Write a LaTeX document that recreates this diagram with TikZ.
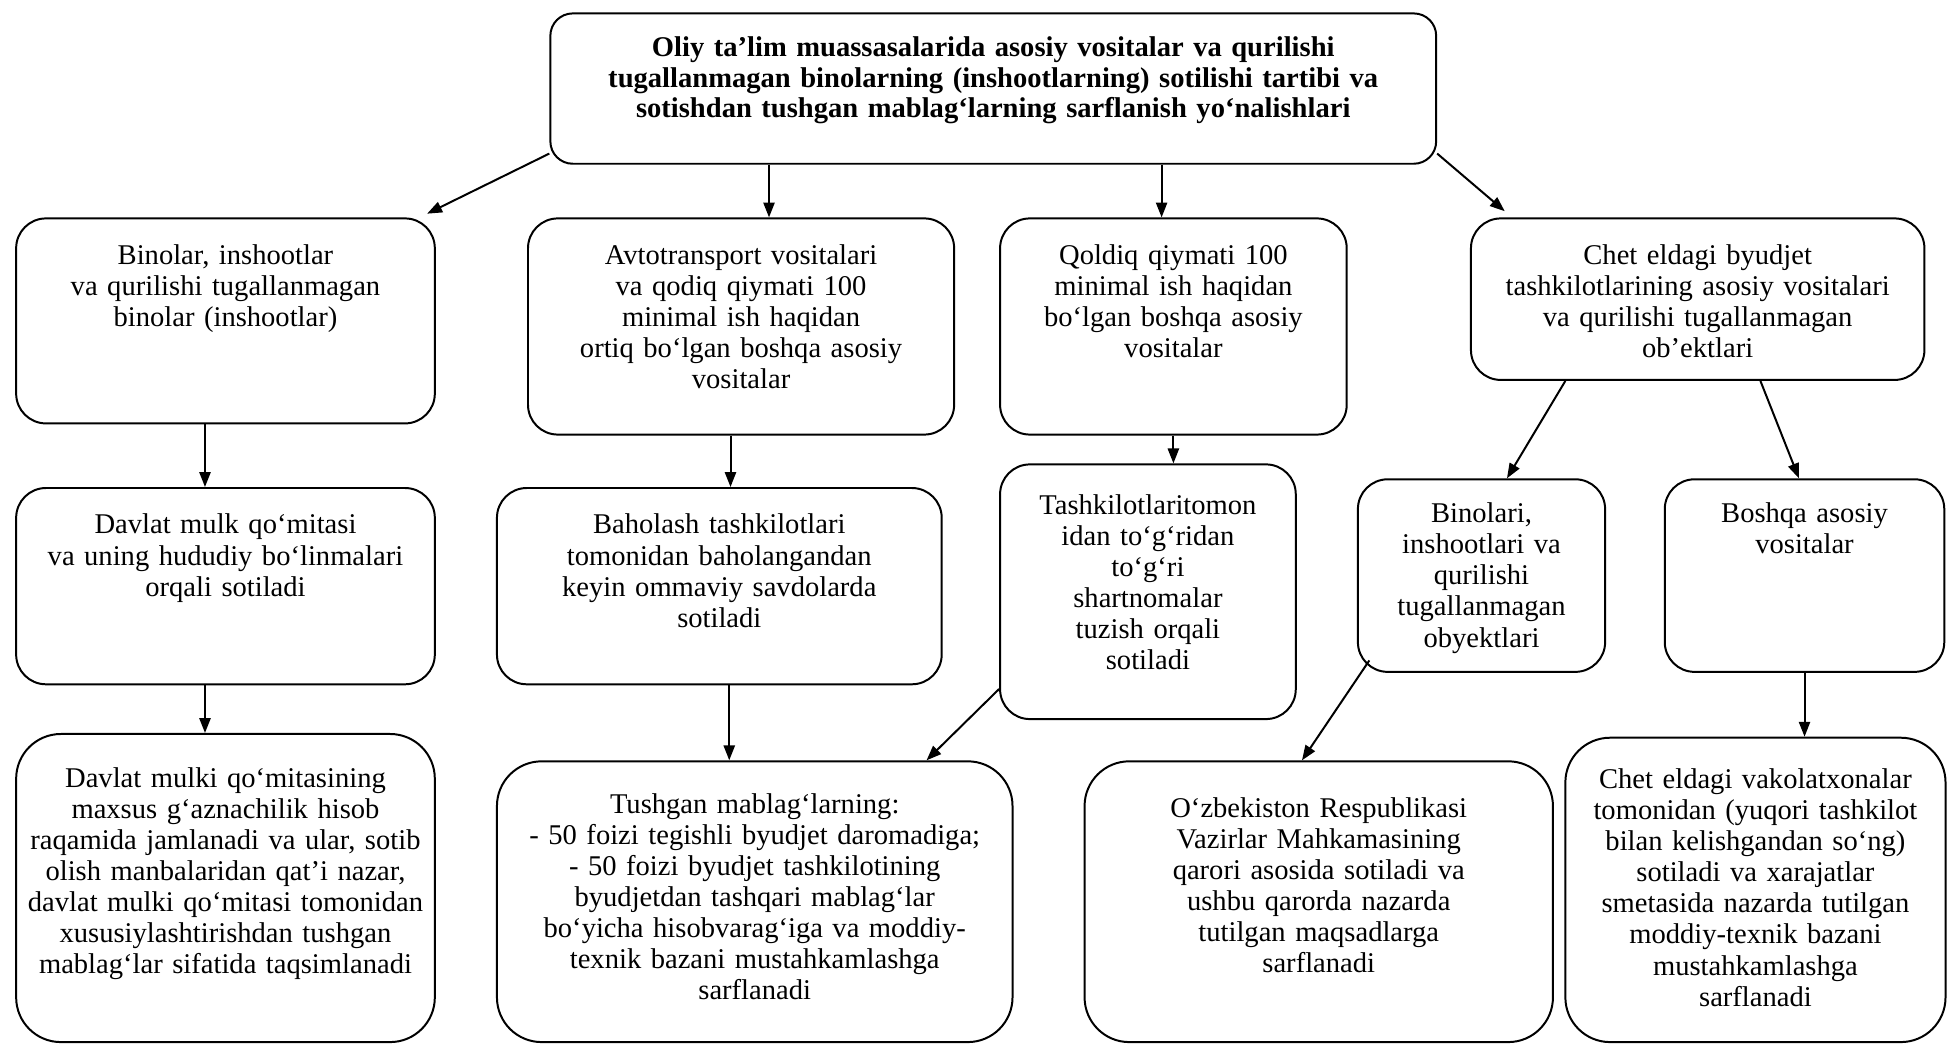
\documentclass[tikz,border=0pt]{standalone}
\usepackage{fontspec}
\setmainfont{Liberation Serif}
\usepackage{tikz}
\usetikzlibrary{arrows.meta}
\tikzstyle{block}=[draw, rounded corners=12pt, line width=0.8pt, anchor=north, align=center, inner xsep=2pt, inner ysep=9.5pt, text height=9pt, font=\fontsize{11.5}{12.5}\selectfont]
\tikzstyle{head}=[block, rounded corners=9pt, text height=8pt, font=\fontsize{11.5}{12.25}\selectfont\bfseries]
\tikzstyle{result}=[block, rounded corners=18pt, text height=12pt]
\tikzstyle{link}=[-{Triangle[length=6pt, width=4.5pt]}, line width=0.8pt]

\begin{document}
\begin{tikzpicture}[x=0.5pt, y=-0.5pt]
    \useasboundingbox (0,0) rectangle (1568,841);

    \node[head, text width=352.5pt, text depth=33.5pt] (top) at (799.5,10) {Oliy ta’lim muassasalarida asosiy vositalar va qurilishi\\tugallanmagan binolarning (inshootlarning) sotilishi tartibi va\\sotishdan tushgan mablag‘larning sarflanish yo‘nalishlari};

    % kinds of property
    \node[block, text width=164.5pt, text depth=54.5pt] (bino)   at (181.5,175)  {Binolar, inshootlar\\va qurilishi tugallanmagan\\binolar (inshootlar)};
    \node[block, text width=167.5pt, text depth=59pt]   (avto)   at (596.5,175)  {Avtotransport vositalari\\va qodiq qiymati 100\\minimal ish haqidan\\ortiq bo‘lgan boshqa asosiy\\vositalar};
    \node[block, text width=135.5pt, text depth=59pt]   (qoldiq) at (944.5,175)  {Qoldiq qiymati 100\\minimal ish haqidan\\bo‘lgan boshqa asosiy\\vositalar};
    \node[block, text width=178.5pt, text depth=37pt]   (chet)   at (1366.5,175) {Chet eldagi byudjet\\tashkilotlarining asosiy vositalari\\va qurilishi tugallanmagan\\ob’ektlari};

    % how it is sold
    \node[block, text width=164.5pt, text depth=51pt]   (davlat) at (181.5,392)  {Davlat mulk qo‘mitasi\\va uning hududiy bo‘linmalari\\orqali sotiladi};
    \node[block, text width=175pt,   text depth=51pt]   (baho)   at (579,392)    {Baholash tashkilotlari\\tomonidan baholangandan\\keyin ommaviy savdolarda\\sotiladi};
    \node[block, text width=115pt,   text depth=73pt, text height=10.5pt] (togri)  at (924,373) {Tashkilotlaritomon\\idan to‘g‘ridan\\to‘g‘ri\\shartnomalar\\tuzish orqali\\sotiladi};
    \node[block, text width=95.5pt,  text depth=50.5pt, text height=8pt] (obyekt) at (1192.5,385) {Binolari,\\inshootlari va\\qurilishi\\tugallanmagan\\obyektlari};
    \node[block, text width=108.5pt, text depth=50.5pt, text height=8pt] (boshqa) at (1452.5,385) {Boshqa asosiy\\vositalar};

    % where the money goes
    \node[result, text width=164.5pt, text depth=93pt]   (hisob)   at (181.5,590)  {Davlat mulki qo‘mitasining\\maxsus g‘aznachilik hisob\\raqamida jamlanadi va ular, sotib\\olish manbalaridan qat’i nazar,\\davlat mulki qo‘mitasi tomonidan\\xususiylashtirishdan tushgan\\mablag‘lar sifatida taqsimlanadi};
    \node[result, text width=203.5pt, text depth=82.5pt, text height=11.5pt] (foiz) at (607.5,612) {Tushgan mablag‘larning:\\- 50 foizi tegishli byudjet daromadiga;\\- 50 foizi byudjet tashkilotining\\byudjetdan tashqari mablag‘lar\\bo‘yicha hisobvarag‘iga va moddiy-\\texnik bazani mustahkamlashga\\sarflanadi};
    \node[result, text width=184.5pt, text depth=81pt, text height=13pt] (qaror) at (1061.5,612) {O‘zbekiston Respublikasi\\Vazirlar Mahkamasining\\qarori asosida sotiladi va\\ushbu qarorda nazarda\\tutilgan maqsadlarga\\sarflanadi};
    \node[result, text width=149pt,   text depth=92.5pt, text height=11pt] (vakolat) at (1413,593) {Chet eldagi vakolatxonalar\\tomonidan (yuqori tashkilot\\bilan kelishgandan so‘ng)\\sotiladi va xarajatlar\\smetasida nazarda tutilgan\\moddiy-texnik bazani\\mustahkamlashga\\sarflanadi};

    \draw[link] ([yshift=4.5pt]top.south west) -- ([xshift=-3.5pt,yshift=1.5pt]bino.north east);
    \draw[link] ([xshift=11.25pt]avto.north |- top.south) -- ([xshift=11.25pt]avto.north);
    \draw[link] ([xshift=-4.75pt]qoldiq.north |- top.south) -- ([xshift=-4.75pt]qoldiq.north);
    \draw[link] ([yshift=4.5pt]top.south east) -- ([xshift=14pt,yshift=2.5pt]chet.north west);

    \draw[link] ([xshift=-8.25pt]bino.south) -- ([xshift=-8.25pt]bino.south |- davlat.north);
    \draw[link] ([xshift=-4.25pt]avto.south) -- ([xshift=-4.25pt]avto.south |- baho.north);
    \draw[link] (qoldiq.south) -- (qoldiq.south |- togri.north);
    \draw[link] ([xshift=-53.25pt]chet.south) -- ([xshift=10.25pt]obyekt.north);
    \draw[link] ([xshift=25.25pt]chet.south) -- ([xshift=-2.25pt]boshqa.north);

    \draw[link] ([xshift=-8.25pt]davlat.south) -- ([xshift=-8.25pt]davlat.south |- hisob.north);
    \draw[link] ([xshift=4pt]baho.south) -- ([xshift=4pt]baho.south |- foiz.north);
    \draw[link] ([yshift=12.5pt]togri.south west) -- ([xshift=-35pt]foiz.north east);
    \draw[link] ([xshift=5pt,yshift=5pt]obyekt.south west) -- ([xshift=-6.75pt]qaror.north);
    \draw[link] (boshqa.south) -- (boshqa.south |- vakolat.north);
\end{tikzpicture}
\end{document}
